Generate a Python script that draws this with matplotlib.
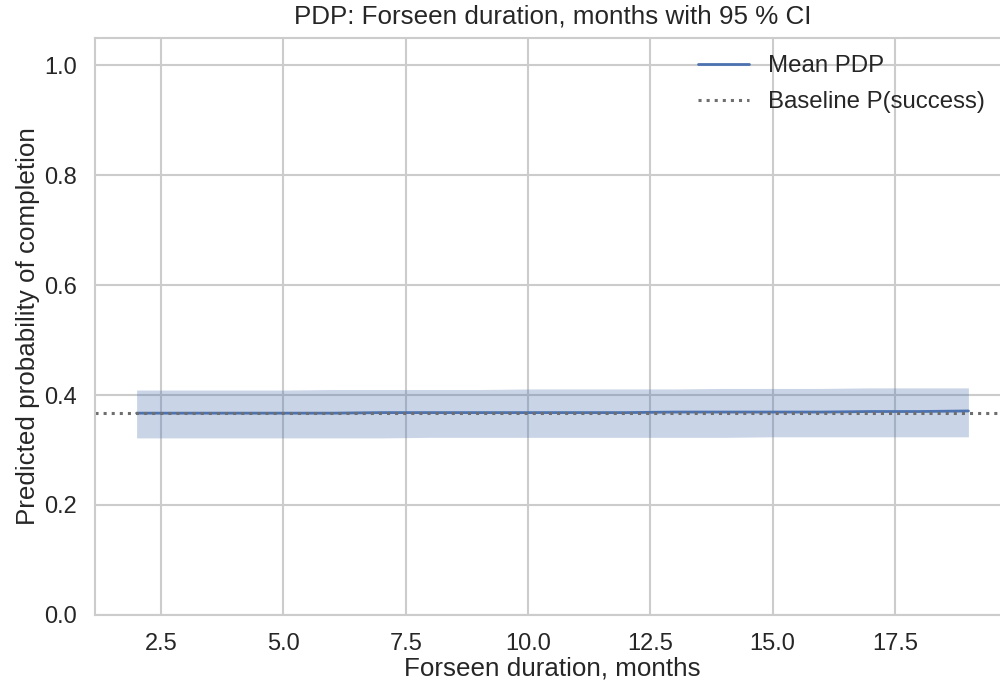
import numpy as np
import matplotlib
matplotlib.use('Agg')
import matplotlib.pyplot as plt
import seaborn as sns

# PDP values
months = [2, 3, 4, 5, 6, 7, 8, 9, 10, 11, 12, 13, 14, 15, 16, 17, 18, 19]
mean_pdp = [0.367, 0.367, 0.367, 0.367, 0.367, 0.368, 0.368, 0.368, 0.368,
            0.368, 0.368, 0.369, 0.369, 0.369, 0.369, 0.370, 0.370, 0.371]
ci_low = [0.322, 0.322, 0.322, 0.322, 0.322, 0.322, 0.323, 0.323, 0.323,
          0.323, 0.323, 0.323, 0.323, 0.324, 0.324, 0.324, 0.324, 0.324]
ci_high = [0.409, 0.409, 0.409, 0.409, 0.410, 0.410, 0.410, 0.410, 0.411,
           0.411, 0.411, 0.411, 0.412, 0.412, 0.412, 0.413, 0.413, 0.413]
baseline = 0.368

sns.set_theme(style='whitegrid')
plt.rcParams['font.family'] = ['Liberation Sans', 'DejaVu Sans']
plt.rcParams['grid.linewidth'] = 1.5
plt.rcParams['grid.color'] = '#cccccc'
plt.rcParams['axes.linewidth'] = 1.5
plt.rcParams['axes.edgecolor'] = '#cccccc'

fig = plt.figure(figsize=(10, 6.87), dpi=100)
ax = fig.add_axes([0.095, 0.105, 0.915, 0.84])

ax.fill_between(months, ci_low, ci_high, color='#4c72b0', alpha=0.3, linewidth=0)
ax.plot(months, mean_pdp, color='#4c72b0', linewidth=2, label='Mean PDP')
ax.axhline(baseline, color='#6e6e6e', linestyle=':', linewidth=2.2,
           label='Baseline P(success)')

ax.set_ylim(0, 1.05)
ax.tick_params(axis='both', labelsize=17, colors='#262626')
ax.tick_params(axis='x', pad=7)
ax.tick_params(axis='y', pad=7)
ax.set_xlabel('Forseen duration, months', fontsize=18.7, labelpad=1)
ax.set_ylabel('Predicted probability of completion', fontsize=18.7, labelpad=3)
ax.set_title('PDP: Forseen duration, months with 95 % CI', fontsize=18.7, pad=10)
ax.legend(frameon=False, loc='upper right', bbox_to_anchor=(0.996, 1.007),
          fontsize=17.3, handlelength=2.1, labelspacing=0.58)

plt.savefig('out.png', dpi=100)
